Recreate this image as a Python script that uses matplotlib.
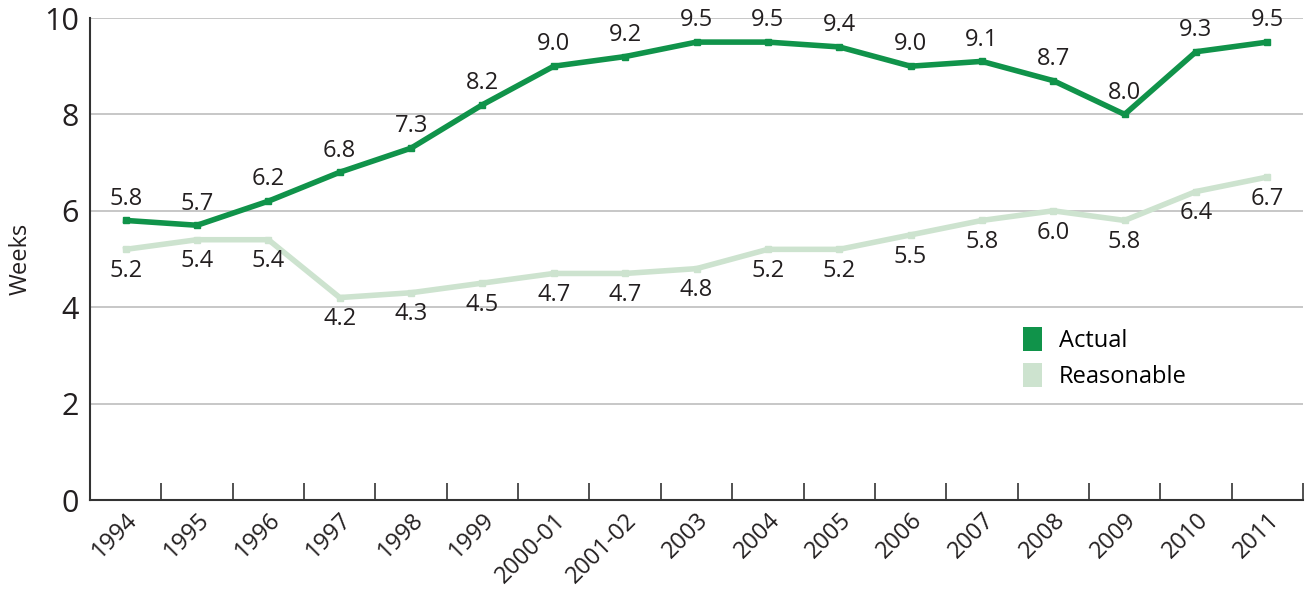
import matplotlib
matplotlib.use("Agg")
import matplotlib.pyplot as plt
import matplotlib.transforms as mtransforms
from matplotlib.patches import Patch
import numpy as np

plt.rcParams['font.family'] = ['Open Sans', 'DejaVu Sans']

categories = ["1994", "1995", "1996", "1997", "1998", "1999", "2000-01", "2001-02",
              "2003", "2004", "2005", "2006", "2007", "2008", "2009", "2010", "2011"]
actual = [5.8, 5.7, 6.2, 6.8, 7.3, 8.2, 9.0, 9.2, 9.5, 9.5, 9.4, 9.0, 9.1, 8.7, 8.0, 9.3, 9.5]
reasonable = [5.2, 5.4, 5.4, 4.2, 4.3, 4.5, 4.7, 4.7, 4.8, 5.2, 5.2, 5.5, 5.8, 6.0, 5.8, 6.4, 6.7]
yticks = [0, 2, 4, 6, 8, 10]

c_actual = "#10934A"
c_reason = "#CDE3CF"
txt = "#231F20"

fig = plt.figure(figsize=(13.07, 5.90), dpi=100)
ax = fig.add_axes([90/1307, 90/590, 1213/1307, 482/590])

x = np.arange(len(categories))
ax.plot(x, reasonable, color=c_reason, lw=4.0, marker='s', ms=5, solid_joinstyle='miter', zorder=3)
ax.plot(x, actual, color=c_actual, lw=4.0, marker='s', ms=5, solid_joinstyle='miter', zorder=4)

for xi, v in zip(x, actual):
    ax.annotate(f"{v:.1f}", (xi, v), xytext=(0, 7), textcoords='offset points',
                ha='center', va='bottom', fontsize=17, color=txt)
for xi, v in zip(x, reasonable):
    ax.annotate(f"{v:.1f}", (xi, v), xytext=(0, -7), textcoords='offset points',
                ha='center', va='top', fontsize=17, color=txt)

ax.set_xlim(-0.5, len(categories) - 0.5)
ax.set_ylim(0, 10)
ax.set_yticks(yticks)
ax.set_yticklabels([str(t) for t in yticks], fontsize=22, color=txt)
ax.grid(axis='y', color='#BDBDBD', lw=1.2)
ax.set_axisbelow(True)

ax.set_xticks(x)
ax.set_xticklabels(categories, fontsize=17, color=txt, rotation=45,
                   ha='right', va='top', rotation_mode='anchor')
offset = mtransforms.ScaledTranslation(18/100, -6/100, fig.dpi_scale_trans)
for lbl in ax.get_xticklabels():
    lbl.set_transform(lbl.get_transform() + offset)
ax.tick_params(axis='x', which='major', length=0, pad=6)
ax.set_xticks(np.arange(0.5, len(categories) - 0.4, 1.0), minor=True)
ax.tick_params(axis='x', which='minor', direction='in', length=12, width=1.2, color='#333333')
ax.tick_params(axis='y', length=0, pad=8)

for s in ['top', 'right']:
    ax.spines[s].set_visible(False)
for s in ['left', 'bottom']:
    ax.spines[s].set_color('#333333')
    ax.spines[s].set_linewidth(1.5)

ax.set_ylabel("Weeks", fontsize=17, color=txt, labelpad=8)

handles = [Patch(facecolor=c_actual, label="Actual"), Patch(facecolor=c_reason, label="Reasonable")]
ax.legend(handles=handles, loc='upper left', bbox_to_anchor=(0.752, 0.404),
          frameon=False, fontsize=17, handlelength=0.8, handleheight=1.2,
          handletextpad=0.7, labelspacing=0.45)

fig.savefig("out.png", dpi=100)
